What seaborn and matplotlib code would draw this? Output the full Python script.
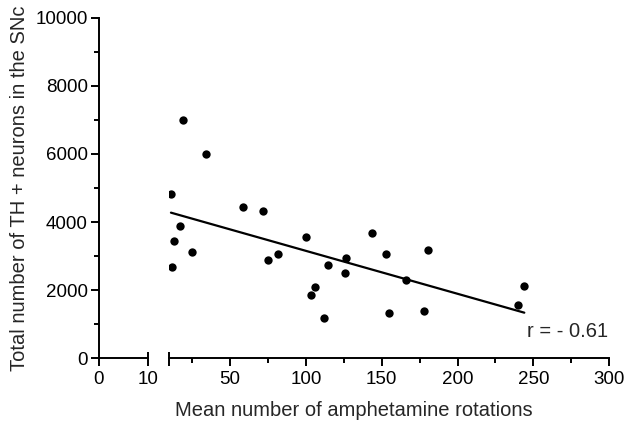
import numpy as np
import pandas as pd
import matplotlib
matplotlib.use("Agg")
import matplotlib.pyplot as plt
import seaborn as sns
from matplotlib.ticker import MultipleLocator, FixedLocator

# Data
rotations = [18.8, 34.0, 11.1, 17.1, 12.9, 25.0, 12.0, 58.8, 71.8, 100.1,
             81.9, 75.1, 114.8, 126.7, 125.8, 106.2, 103.6, 112.2, 143.8, 152.8,
             180.5, 165.8, 154.8, 177.9, 244.0, 239.7]
th_neurons = [7000, 6000, 4815, 3884, 3435, 3112, 2681, 4442, 4316, 3561,
              3062, 2886, 2748, 2945, 2504, 2085, 1867, 1192, 3679, 3071,
              3188, 2299, 1321, 1389, 2123, 1565]

y_ticks = [0, 2000, 4000, 6000, 8000, 10000]
x_ticks_left = [0, 10]
x_ticks_right = [10, 50, 100, 150, 200, 250, 300]
x_ticklabels_right = ["", "50", "100", "150", "200", "250", "300"]
x_minor_right = [25, 75, 125, 175, 225, 275]
r_label = "r = - 0.61"

df = pd.DataFrame({"rotations": rotations, "th": th_neurons})

sns.set_style("ticks")
plt.rcParams["font.family"] = ["Liberation Sans", "DejaVu Sans"]

LW = 1.4
FS_TICK = 13.5
FS_LABEL = 14.5

fig = plt.figure(figsize=(6.3, 4.25), dpi=100)
ax1 = fig.add_axes([0.1571, 0.157, 0.0773, 0.8014])
ax2 = fig.add_axes([0.2687, 0.157, 0.6984, 0.8014], sharey=ax1)

sns.regplot(data=df, x="rotations", y="th", ax=ax2, ci=None, truncate=True,
            scatter_kws=dict(s=36, color="black", linewidths=0, alpha=1),
            line_kws=dict(color="black", lw=1.6))

ax1.set_xlim(0, 10)
ax2.set_xlim(10, 300)
ax1.set_ylim(0, 10000)

for ax in (ax1, ax2):
    ax.spines["top"].set_visible(False)
    ax.spines["right"].set_visible(False)
    for s in ax.spines.values():
        s.set_linewidth(LW)
        s.set_color("black")
    ax.set_xlabel("")
    ax.set_ylabel("")
    ax.patch.set_visible(False)
ax2.spines["left"].set_visible(False)

ax1.set_yticks(y_ticks)
ax1.yaxis.set_minor_locator(MultipleLocator(1000))
ax1.set_xticks(x_ticks_left)
ax2.set_xticks(x_ticks_right)
ax2.set_xticklabels(x_ticklabels_right)
ax2.xaxis.set_minor_locator(FixedLocator(x_minor_right))
ax2.tick_params(axis="y", which="both", left=False, labelleft=False)

for ax in (ax1, ax2):
    ax.tick_params(which="major", direction="out", length=6, width=LW,
                   labelsize=FS_TICK, colors="black", pad=2)
    ax.tick_params(axis="x", which="major", pad=3)
    ax.tick_params(which="minor", direction="out", length=3.5, width=LW, colors="black")

# axis-break stubs at the segment ends
for ax in (ax1, ax2):
    ax.plot([10, 10], [0, 0.018], transform=ax.get_xaxis_transform(),
            color="black", lw=LW, clip_on=False, solid_capstyle="butt")

ax2.text(245.6, 772, r_label, fontsize=FS_LABEL, va="center", ha="left")

ax1.set_ylabel("Total number of TH + neurons in the SNc", fontsize=FS_LABEL, labelpad=5)
fig.text(0.562, 0.033, "Mean number of amphetamine rotations", fontsize=FS_LABEL,
         ha="center", va="center")

fig.savefig("out.png", dpi=100)
